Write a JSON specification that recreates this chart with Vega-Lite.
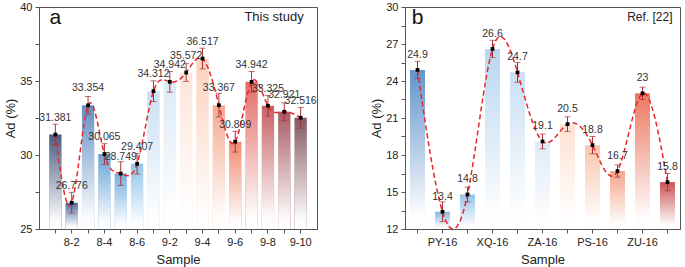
{
  "$schema": "https://vega.github.io/schema/vega-lite/v6.json",
  "padding": {"top": 0, "left": 4, "right": 4, "bottom": 0},
  "spacing": 52,
  "resolve": {"scale": {"color": "independent", "x": "independent", "y": "independent"}},
  "config": {
    "font": "Liberation Sans",
    "view": {"stroke": "#555", "strokeWidth": 1},
    "axis": {"grid": false, "domainColor": "#555", "tickColor": "#555", "labelColor": "#222", "titleColor": "#222", "labelFont": "Liberation Sans", "titleFont": "Liberation Sans", "labelFontSize": 11, "titleFontSize": 13, "titleFontWeight": "normal", "tickSize": 4}
  },
  "datasets": {
    "study": [
      {"s": "8-1", "v": 31.381, "e": 0.7},
      {"s": "8-2", "v": 26.776, "e": 0.7},
      {"s": "8-3", "v": 33.354, "e": 0.6},
      {"s": "8-4", "v": 30.065, "e": 0.7},
      {"s": "8-5", "v": 28.749, "e": 0.8},
      {"s": "8-6", "v": 29.407, "e": 0.7},
      {"s": "9-1", "v": 34.312, "e": 0.7},
      {"s": "9-2", "v": 34.942, "e": 0.7},
      {"s": "9-3", "v": 35.572, "e": 0.6},
      {"s": "9-4", "v": 36.517, "e": 0.7},
      {"s": "9-5", "v": 33.367, "e": 0.8},
      {"s": "9-6", "v": 30.899, "e": 0.7},
      {"s": "9-7", "v": 34.942, "e": 0.7},
      {"s": "9-8", "v": 33.325, "e": 0.7},
      {"s": "9-9", "v": 32.921, "e": 0.6},
      {"s": "9-10", "v": 32.516, "e": 0.7}
    ],
    "ref": [
      {"s": "s1", "v": 24.9, "e": 0.7},
      {"s": "PY-16", "v": 13.4, "e": 0.8},
      {"s": "s3", "v": 14.8, "e": 0.6},
      {"s": "XQ-16", "v": 26.6, "e": 0.7},
      {"s": "s5", "v": 24.7, "e": 0.8},
      {"s": "ZA-16", "v": 19.1, "e": 0.6},
      {"s": "s7", "v": 20.5, "e": 0.6},
      {"s": "PS-16", "v": 18.8, "e": 0.7},
      {"s": "s9", "v": 16.7, "e": 0.5},
      {"s": "ZU-16", "v": 23, "e": 0.5},
      {"s": "s11", "v": 15.8, "e": 0.7}
    ]
  },
  "hconcat": [
    {
      "width": 278,
      "height": 222,
      "data": {"name": "study"},
      "encoding": {
        "x": {"field": "s", "type": "nominal", "sort": null,
          "scale": {"paddingInner": 0.25, "paddingOuter": 0.625},
          "axis": {"title": "Sample", "labelAngle": 0, "labelPadding": 3, "titlePadding": 6,
            "labelExpr": "test(/[02468]$/, datum.value) ? datum.label : ''"}},
        "y": {"field": "v", "type": "quantitative",
          "scale": {"domain": [25, 40], "nice": false, "zero": false},
          "axis": {"title": "Ad (%)", "values": [25, 27.5, 30, 32.5, 35, 37.5, 40], "labelPadding": 3, "titlePadding": 2,
            "labelExpr": "datum.value % 5 === 0 ? datum.label : ''"}}
      },
      "layer": [
        {"mark": {"type": "bar"},
          "encoding": {"y2": {"datum": 25},
            "color": {"field": "s", "type": "nominal", "legend": null,
              "scale": {"domain": ["8-1","8-2","8-3","8-4","8-5","8-6","9-1","9-2","9-3","9-4","9-5","9-6","9-7","9-8","9-9","9-10"],
                "range": ["#43527a","#44649e","#5a8ac2","#5f9dd2","#6eabdd","#8bc0e6","#c6def2","#dae9f6","#fde4d8","#fbcfb9","#f4a68a","#ef8366","#e3655e","#c4585c","#a25259","#7c5057"]}}}},
        {"mark": {"type": "bar", "fill": {"gradient": "linear", "x1": 0, "y1": 0, "x2": 0, "y2": 1,
            "stops": [{"offset": 0, "color": "rgba(255,255,255,0.05)"}, {"offset": 0.9, "color": "rgba(255,255,255,0.97)"}, {"offset": 1, "color": "rgba(255,255,255,1)"}]}},
          "encoding": {"y2": {"datum": 25}}},
        {"mark": {"type": "line", "interpolate": "natural", "color": "#e8262b", "strokeWidth": 1.5, "strokeDash": [5, 3], "clip": true},
          "encoding": {}},
        {"mark": {"type": "errorbar", "color": "#a8323a", "ticks": {"size": 6}, "thickness": 1},
          "encoding": {"yError": {"field": "e"}}},
        {"mark": {"type": "point", "filled": true, "shape": "square", "color": "#000", "size": 14, "opacity": 1},
          "encoding": {}},
        {"mark": {"type": "text", "baseline": "bottom", "dy": -12, "fontSize": 10.5, "color": "#333"},
          "encoding": {"text": {"field": "v", "type": "nominal"}}},
        {"transform": [{"filter": "datum.s === '8-1'"}],
          "mark": {"type": "text", "fontSize": 21, "color": "#111", "align": "center", "baseline": "middle"},
          "encoding": {"y": {"datum": 39.25}, "text": {"value": "a"}}},
        {"transform": [{"filter": "datum.s === '9-10'"}],
          "mark": {"type": "text", "fontSize": 13, "color": "#222", "align": "right", "baseline": "middle", "dx": 3},
          "encoding": {"y": {"datum": 39.3}, "text": {"value": "This study"}}}
      ]
    },
    {
      "width": 275,
      "height": 222,
      "data": {"name": "ref"},
      "encoding": {
        "x": {"field": "s", "type": "nominal", "sort": null,
          "scale": {"paddingInner": 0.4, "paddingOuter": 0.2},
          "axis": {"title": "Sample", "labelAngle": 0, "labelPadding": 3, "titlePadding": 6,
            "labelExpr": "test(/-16$/, datum.value) ? datum.label : ''"}},
        "y": {"field": "v", "type": "quantitative",
          "scale": {"domain": [12, 30], "nice": false, "zero": false},
          "axis": {"title": "Ad (%)", "values": [12, 13.5, 15, 16.5, 18, 19.5, 21, 22.5, 24, 25.5, 27, 28.5, 30], "labelPadding": 3, "titlePadding": 2,
            "labelExpr": "datum.value % 3 === 0 ? datum.label : ''"}}
      },
      "layer": [
        {"mark": {"type": "bar"},
          "encoding": {"y2": {"datum": 12},
            "color": {"field": "s", "type": "nominal", "legend": null,
              "scale": {"domain": ["s1","PY-16","s3","XQ-16","s5","ZA-16","s7","PS-16","s9","ZU-16","s11"],
                "range": ["#5a8ec8","#7fb3e0","#8ebfe6","#b3d4ef","#c8def2","#dde9f6","#fde1d2","#f8c3a9","#f4a083","#ec705a","#c84a4e"]}}}},
        {"mark": {"type": "bar", "fill": {"gradient": "linear", "x1": 0, "y1": 0, "x2": 0, "y2": 1,
            "stops": [{"offset": 0, "color": "rgba(255,255,255,0.05)"}, {"offset": 0.9, "color": "rgba(255,255,255,0.97)"}, {"offset": 1, "color": "rgba(255,255,255,1)"}]}},
          "encoding": {"y2": {"datum": 12}}},
        {"mark": {"type": "line", "interpolate": "natural", "color": "#e8262b", "strokeWidth": 1.5, "strokeDash": [5, 3], "clip": true},
          "encoding": {}},
        {"mark": {"type": "errorbar", "color": "#a8323a", "ticks": {"size": 6}, "thickness": 1},
          "encoding": {"yError": {"field": "e"}}},
        {"mark": {"type": "point", "filled": true, "shape": "square", "color": "#000", "size": 14, "opacity": 1},
          "encoding": {}},
        {"mark": {"type": "text", "baseline": "bottom", "dy": -10, "fontSize": 10.5, "color": "#333"},
          "encoding": {"text": {"field": "v", "type": "nominal"}}},
        {"transform": [{"filter": "datum.s === 's1'"}],
          "mark": {"type": "text", "fontSize": 21, "color": "#111", "align": "center", "baseline": "middle"},
          "encoding": {"y": {"datum": 29.1}, "text": {"value": "b"}}},
        {"transform": [{"filter": "datum.s === 's11'"}],
          "mark": {"type": "text", "fontSize": 12, "color": "#222", "align": "right", "baseline": "middle", "dx": 5},
          "encoding": {"y": {"datum": 29.2}, "text": {"value": "Ref. [22]"}}}
      ]
    }
  ]
}
